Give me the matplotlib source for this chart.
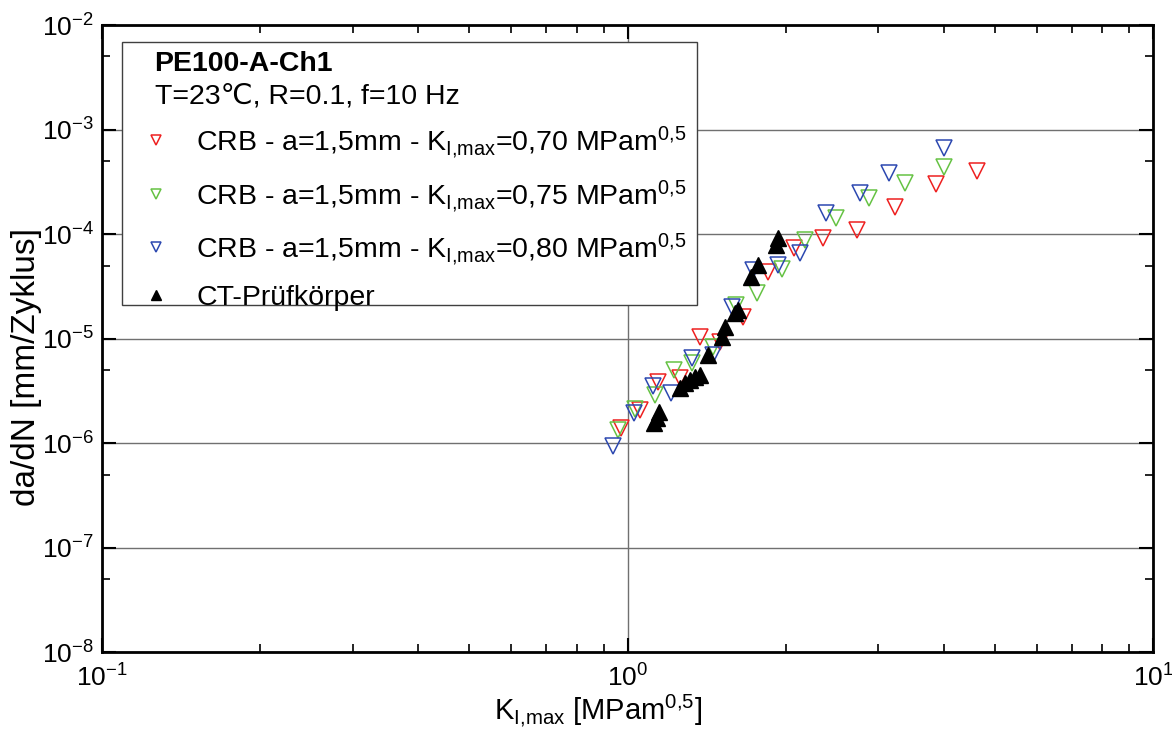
import matplotlib
matplotlib.use("Agg")
import matplotlib.pyplot as plt
from matplotlib.ticker import LogLocator, FuncFormatter, NullFormatter
from matplotlib.patches import Rectangle
import numpy as np

plt.rcParams['font.family'] = ['Liberation Sans', 'DejaVu Sans']
plt.rcParams['mathtext.fontset'] = 'custom'
plt.rcParams['mathtext.rm'] = 'Liberation Sans'
plt.rcParams['mathtext.it'] = 'Liberation Sans'
plt.rcParams['mathtext.default'] = 'regular'

# data: K_I,max [MPa m^0.5] and da/dN [mm/cycle]
red_k = [0.971, 1.055, 1.144, 1.258, 1.373, 1.499, 1.66, 1.853, 2.075, 2.357, 2.73, 3.22, 3.855, 4.63]
red_v = [1.38e-6, 2.07e-6, 3.87e-6, 4.17e-6, 1.04e-5, 9.3e-6, 1.62e-5, 4.37e-5, 7.3e-5, 9.1e-5, 1.09e-4, 1.82e-4, 3.0e-4, 4.04e-4]

green_k = [0.957, 1.033, 1.127, 1.227, 1.324, 1.456, 1.606, 1.765, 1.963, 2.175, 2.49, 2.88, 3.37, 4.0]
green_v = [1.33e-6, 2.1e-6, 2.88e-6, 5.0e-6, 5.8e-6, 8.35e-6, 2.09e-5, 2.7e-5, 4.6e-5, 8.8e-5, 1.41e-4, 2.2e-4, 3.06e-4, 4.4e-4]

blue_k = [0.94, 1.028, 1.12, 1.21, 1.324, 1.456, 1.577, 1.735, 1.935, 2.13, 2.38, 2.77, 3.14, 4.0]
blue_v = [9.35e-7, 1.92e-6, 3.51e-6, 2.99e-6, 6.45e-6, 6.95e-6, 2.02e-5, 4.52e-5, 5.05e-5, 6.53e-5, 1.58e-4, 2.45e-4, 3.81e-4, 6.6e-4]

ct_k = [1.124, 1.136, 1.149, 1.258, 1.285, 1.314, 1.343, 1.373, 1.424, 1.51, 1.53, 1.6, 1.624, 1.716, 1.773, 1.913, 1.935]
ct_v = [1.54e-6, 1.72e-6, 2.0e-6, 3.33e-6, 3.72e-6, 4.0e-6, 4.3e-6, 4.5e-6, 6.95e-6, 1.04e-5, 1.3e-5, 1.74e-5, 1.88e-5, 3.9e-5, 5.05e-5, 7.85e-5, 9.1e-5]

labels = [
    r'CRB - a=1,5mm - K$_{I{,}max}$=0,70 MPam$^{0{,}5}$',
    r'CRB - a=1,5mm - K$_{I{,}max}$=0,75 MPam$^{0{,}5}$',
    r'CRB - a=1,5mm - K$_{I{,}max}$=0,80 MPam$^{0{,}5}$',
    'CT-Prüfkörper',
]
colors = ['#ee2020', '#66c244', '#2c48b0']

fig = plt.figure(figsize=(11.72, 7.36), dpi=100)
ax = fig.add_axes([0.087, 0.114, 0.897, 0.852])

handles = []
for k, v, c, lab in zip([red_k, green_k, blue_k], [red_v, green_v, blue_v], colors, labels[:3]):
    h, = ax.plot(k, v, linestyle='none', marker='v', markersize=12,
                 markerfacecolor='none', markeredgecolor=c, markeredgewidth=1.1,
                 label=lab, zorder=3)
    handles.append(h)
h, = ax.plot(ct_k, ct_v, linestyle='none', marker='^', markersize=12,
             color='black', label=labels[3], zorder=4)
handles.append(h)

ax.set_xscale('log')
ax.set_yscale('log')
ax.set_xlim(0.1, 10)
ax.set_ylim(1e-8, 1e-2)

def fmt(val, pos):
    e = int(round(np.log10(val)))
    return r'10$^{%d}$' % e

ax.xaxis.set_major_locator(LogLocator(base=10, numticks=10))
ax.xaxis.set_minor_locator(LogLocator(base=10, subs=np.arange(2, 10), numticks=20))
ax.yaxis.set_major_locator(LogLocator(base=10, numticks=10))
ax.yaxis.set_minor_locator(LogLocator(base=10, subs=[5], numticks=20))
ax.xaxis.set_major_formatter(FuncFormatter(fmt))
ax.yaxis.set_major_formatter(FuncFormatter(fmt))
ax.xaxis.set_minor_formatter(NullFormatter())
ax.yaxis.set_minor_formatter(NullFormatter())

ax.tick_params(which='both', direction='in', top=True, right=True, labelsize=19)
ax.tick_params(which='major', length=10, width=1.5)
ax.tick_params(which='minor', length=6, width=1.2)
ax.tick_params(axis='x', pad=9)
ax.tick_params(axis='y', pad=6)

ax.grid(which='major', color='#707070', linewidth=1.0, zorder=0)
ax.set_axisbelow(True)
for s in ax.spines.values():
    s.set_linewidth(2.0)

ax.set_xlabel(r'K$_{I{,}max}$ [MPam$^{0{,}5}$]', fontsize=21)
ax.set_ylabel('da/dN [mm/Zyklus]', fontsize=24)
ax.xaxis.set_label_coords(0.472, -0.065)
ax.yaxis.set_label_coords(-0.057, 0.455)

# legend frame with header lines
ax.add_patch(Rectangle((0.019, 0.553), 0.547, 0.42, transform=ax.transAxes,
                       facecolor='white', edgecolor='#404040', linewidth=1.0, zorder=5))
ax.text(0.05, 0.938, 'PE100-A-Ch1', transform=ax.transAxes, fontsize=20.5,
        fontweight='bold', va='center', ha='left', zorder=6)
ax.text(0.05, 0.886, 'T=23℃, R=0.1, f=10 Hz', transform=ax.transAxes, fontsize=20.5,
        va='center', ha='left', zorder=6)

leg = ax.legend(handles=handles, loc='upper left', bbox_to_anchor=(0.038, 0.842),
                frameon=False, fontsize=20.5, markerscale=0.6, handlelength=1.0,
                handletextpad=0.9, labelspacing=0.62, borderpad=0, borderaxespad=0)
leg.set_zorder(7)

fig.savefig('out.png', dpi=100)
